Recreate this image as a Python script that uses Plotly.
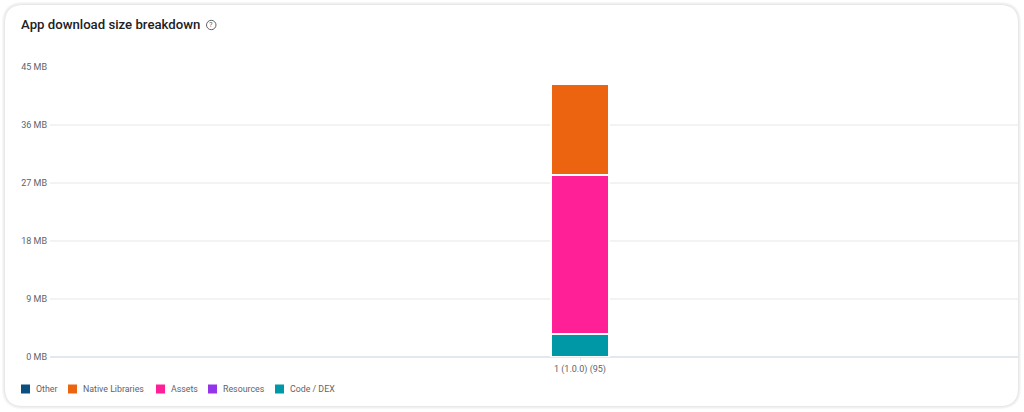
import plotly.graph_objects as go

categories = ["1 (1.0.0) (95)"]
series_names = ["Code / DEX", "Resources", "Assets", "Native Libraries", "Other"]
series_values = [[3.55], [0.0], [24.75], [14.0], [0.0]]
series_colors = ["#0097A7", "#9333EA", "#FF2097", "#EC6410", "#0B4F7F"]
legend_order = ["Other", "Native Libraries", "Assets", "Resources", "Code / DEX"]
legend_x = [21, 68, 156, 208, 275]
y_ticks = [0, 9, 18, 27, 36, 45]
y_tick_labels = ["0 MB", "9 MB", "18 MB", "27 MB", "36 MB", "45 MB"]

W, H = 1024, 412
L, R, T, B = 50, 6, 67, 55
PW, PH = W - L - R, H - T - B
px = lambda x: (x - L) / PW
py = lambda y: 1 - (y - T) / PH

def card(x0, y0, x1, y1, r):
    a, b, c, d = px(x0), py(y0), px(x1), py(y1)
    rx, ry = r / PW, r / PH
    return (f"M{a+rx},{b} L{c-rx},{b} Q{c},{b} {c},{b-ry} L{c},{d+ry} Q{c},{d} {c-rx},{d} "
            f"L{a+rx},{d} Q{a},{d} {a},{d+ry} L{a},{b-ry} Q{a},{b} {a+rx},{b} Z")

fig = go.Figure()
for name, vals, color in zip(series_names, series_values, series_colors):
    fig.add_bar(x=categories, y=vals, name=name, width=0.0605,
                marker=dict(color=color, line=dict(color="white", width=2)),
                showlegend=False)

shapes = []
for grow, col in [(3, "#f7f7f7"), (2, "#f0f0f0"), (1, "#e8e8e8")]:
    shapes.append(dict(type="path", xref="paper", yref="paper", layer="below", line_width=0,
                       fillcolor=col, path=card(5 - grow, 5 - grow, 1018 + grow, 406 + grow, 18 + grow)))
shapes.append(dict(type="path", xref="paper", yref="paper", layer="below", line_width=0,
                   fillcolor="white", path=card(5, 5, 1018, 406, 18)))
# help icon
shapes.append(dict(type="circle", xref="paper", yref="paper", layer="above",
                   x0=px(206.5), x1=px(216), y0=py(29.7), y1=py(20.3),
                   line=dict(color="#5f6368", width=1)))

annotations = [
    dict(text="App download size breakdown", x=px(18.7), y=py(25), xref="paper", yref="paper",
         xanchor="left", yanchor="middle", showarrow=False,
         font=dict(family="Roboto", size=13.2, color="#202124", weight=500)),
    dict(text="?", x=px(211.3), y=py(25), xref="paper", yref="paper", xanchor="center",
         yanchor="middle", showarrow=False, font=dict(family="Roboto", size=7.5, color="#5f6368")),
]
color_of = dict(zip(series_names, series_colors))
for name, x in zip(legend_order, legend_x):
    shapes.append(dict(type="rect", xref="paper", yref="paper", layer="above", line_width=0,
                       x0=px(x), x1=px(x + 9), y0=py(393.5), y1=py(384.5),
                       fillcolor=color_of[name]))
    annotations.append(dict(text=name, x=px(x + 12.5), y=py(389), xref="paper", yref="paper",
                            xanchor="left", yanchor="middle", showarrow=False,
                            font=dict(family="Roboto", size=8.8, color="#5f6368")))

fig.update_layout(
    width=W, height=H, autosize=False,
    margin=dict(l=L, r=R, t=T, b=B, pad=0),
    barmode="stack", bargap=0,
    paper_bgcolor="white", plot_bgcolor="rgba(0,0,0,0)",
    font=dict(family="Roboto", size=9, color="#5f6368"),
    shapes=shapes, annotations=annotations, showlegend=False,
    xaxis=dict(type="category", range=[-(580 - L) / PW, (W - R - 580) / PW],
               showgrid=False, showline=False, zeroline=False,
               ticks="outside", ticklen=3, tickwidth=1, tickcolor="#e3e8ee",
               tickfont=dict(family="Roboto", size=9, color="#5f6368")),
    yaxis=dict(range=[0, 45], tickmode="array", tickvals=y_ticks, ticktext=y_tick_labels,
               gridcolor="#f3f3f3", gridwidth=1.5, zeroline=True, ticklabelstandoff=2,
               zerolinecolor="#e3e8ee", zerolinewidth=1.5, showline=False,
               ticks="", tickfont=dict(family="Roboto", size=9, color="#5f6368")),
)
fig.write_html("out.html", config=dict(displayModeBar=False),
               post_script="document.body.style.margin='0';document.documentElement.style.overflow='hidden';")
